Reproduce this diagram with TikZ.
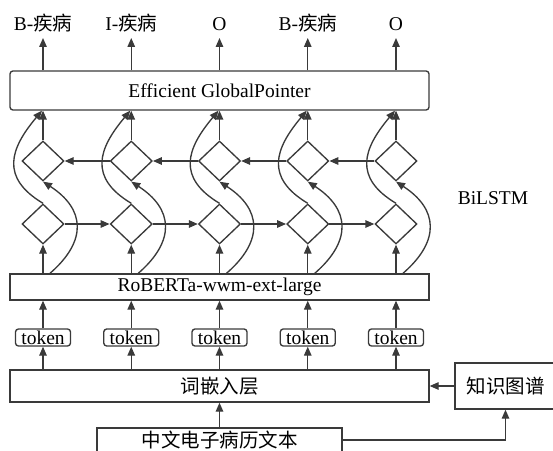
\documentclass[tikz,border=0pt]{standalone}
\usepackage{fontspec}
\setmainfont{Liberation Serif}
\newfontfamily\cjk{Noto Sans CJK SC}
\usetikzlibrary{arrows.meta,shapes.geometric}
\newcommand\zh[1]{{\cjk #1}}
\definecolor{linegray}{HTML}{3A3A3A}

\begin{document}
\begin{tikzpicture}[
x=1pt,y=1pt,line width=1.35pt,
font=\fontsize{19.5}{22}\selectfont,
arr/.style={draw=linegray,-{Triangle[length=9pt,width=7.5pt]}},
layer/.style={draw=linegray,inner sep=0,minimum width=419pt},
tok/.style={draw=linegray,rounded corners=3pt,inner sep=0,minimum width=55pt,minimum height=17pt},
cell/.style={draw=linegray,diamond,inner sep=0,minimum width=42pt,minimum height=40pt},
outlab/.style={anchor=south,inner sep=2pt,text height=14pt,text depth=5pt}
]
\clip (0,0) rectangle (553,450);

% layers
\node[layer,minimum height=39pt,rounded corners=3pt] (gp) at (219.5,359.5) {Efficient GlobalPointer};
\node[layer,minimum height=26pt] (rob) at (219.5,163) {RoBERTa-wwm-ext-large};
\node[layer,minimum height=32pt] (emb) at (219.5,64) {\zh{词嵌入层}};
\node[draw=linegray,inner sep=0,minimum width=101pt,minimum height=46pt] (kg) at (505.5,64) {\zh{知识图谱}};
\node[draw=linegray,inner sep=0,minimum width=245pt,minimum height=24pt] (txt) at (219.5,10) {\zh{中文电子病历文本}};
\node (bilstm) at (493,252) {BiLSTM};

\draw[arr] (txt.north) -- (emb.south);
\draw[arr] (txt.east) -| (kg.south);
\draw[arr] (kg.west) -- (kg.west -| emb.east);

% columns
\foreach \i/\lab in {1/B-\zh{疾病},2/I-\zh{疾病},3/O,4/B-\zh{疾病},5/O} {
  \pgfmathsetmacro\cx{43+88.25*(\i-1)}
  \node[tok] (t\i) at (\cx,112.5) {token};
  \node[cell] (lo\i) at (\cx,226) {};
  \node[cell] (up\i) at (\cx,289) {};
  \node[outlab] (o\i) at (\cx,412) {\lab};
  \draw[arr] (t\i |- emb.north) -- (t\i.south);
  \draw[arr] (t\i.north) -- (t\i |- rob.south);
  \draw[arr] (lo\i |- rob.north) -- (lo\i.south);
  \draw[arr] (up\i.north) -- (up\i |- gp.south);
  \draw[arr] (o\i |- gp.north) -- (o\i.south);
  % skip paths
  \draw[arr] (lo\i.north) .. controls +(149:50) and +(230:50) .. ([xshift=-1pt]up\i.north |- gp.south);
  \draw[arr] ([xshift=7pt]lo\i.south |- rob.north) .. controls +(41:50) and +(-33:50) .. (up\i.south);
}
\foreach \i in {1,...,4} {
  \pgfmathtruncatemacro\j{\i+1}
  \draw[arr] (lo\i.east) -- (lo\j.west);
  \draw[arr] (up\j.west) -- (up\i.east);
}
\end{tikzpicture}
\end{document}
